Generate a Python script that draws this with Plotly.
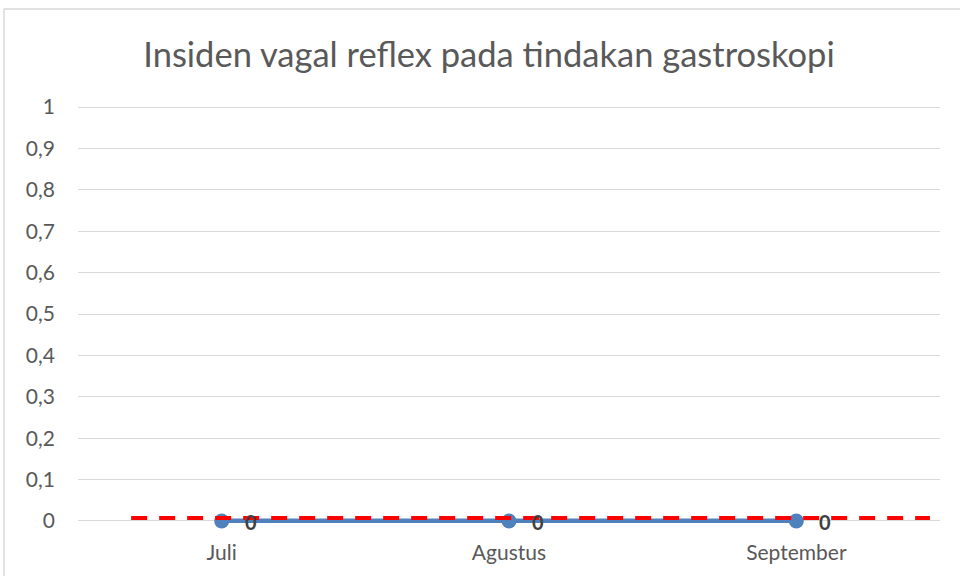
import plotly.graph_objects as go

months = ["Juli", "Agustus", "September"]
insiden = [0, 0, 0]
target = 0.007
y_ticks = [0, 0.1, 0.2, 0.3, 0.4, 0.5, 0.6, 0.7, 0.8, 0.9, 1]
y_tick_labels = ["0", "0,1", "0,2", "0,3", "0,4", "0,5", "0,6", "0,7", "0,8", "0,9", "1"]
title = "Insiden vagal reflex pada tindakan gastroskopi"

fig = go.Figure()
fig.add_trace(go.Scatter(
    x=months, y=insiden, mode="lines+markers",
    line=dict(color="#4F81BD", width=5),
    marker=dict(color="#4F81BD", size=15),
    showlegend=False, cliponaxis=False,
))
for m, v in zip(months, insiden):
    fig.add_annotation(x=m, y=v, text=f"<b>{v}</b>", showarrow=False, xshift=29, yshift=-1,
                       font=dict(family="Lato, Arial", size=20, color="#404040"))

fig.add_shape(type="line", xref="x", yref="y", x0=-0.315, x1=2.465, y0=target, y1=target,
              line=dict(color="#FF0000", width=4, dash="16px,12px"), layer="above")

# chart-area border
fig.add_shape(type="rect", xref="paper", yref="paper", x0=-0.0858, x1=1.2, y0=-0.3, y1=1.2297,
              line=dict(color="#D9D9D9", width=1.5), fillcolor="rgba(0,0,0,0)", layer="below")

fig.update_layout(
    width=960, height=576,
    margin=dict(l=78, r=20, t=105, b=53),
    paper_bgcolor="white", plot_bgcolor="white",
    title=dict(text=title, x=489/960, xanchor="center", y=1 - 55/576, yanchor="middle",
               font=dict(family="Lato, Open Sans, Arial", size=34.5, color="#595959")),
    xaxis=dict(range=[-0.5, 2.5], showgrid=False, showline=False, zeroline=False,
               tickfont=dict(family="Lato, Arial", size=21, color="#595959"), ticks="",
               ticklabelstandoff=15, fixedrange=True),
    yaxis=dict(range=[-0.005, 1.005], tickvals=y_ticks, ticktext=y_tick_labels,
               showgrid=True, gridcolor="#D9D9D9", gridwidth=1, zeroline=False, showline=False,
               tickfont=dict(family="Lato, Arial", size=21, color="#595959"), ticks="",
               ticklabelstandoff=22, fixedrange=True),
    font=dict(family="Lato, Arial"),
)

fig.write_html("out.html", config={"displayModeBar": False},
               post_script="document.body.style.margin='0px';")
